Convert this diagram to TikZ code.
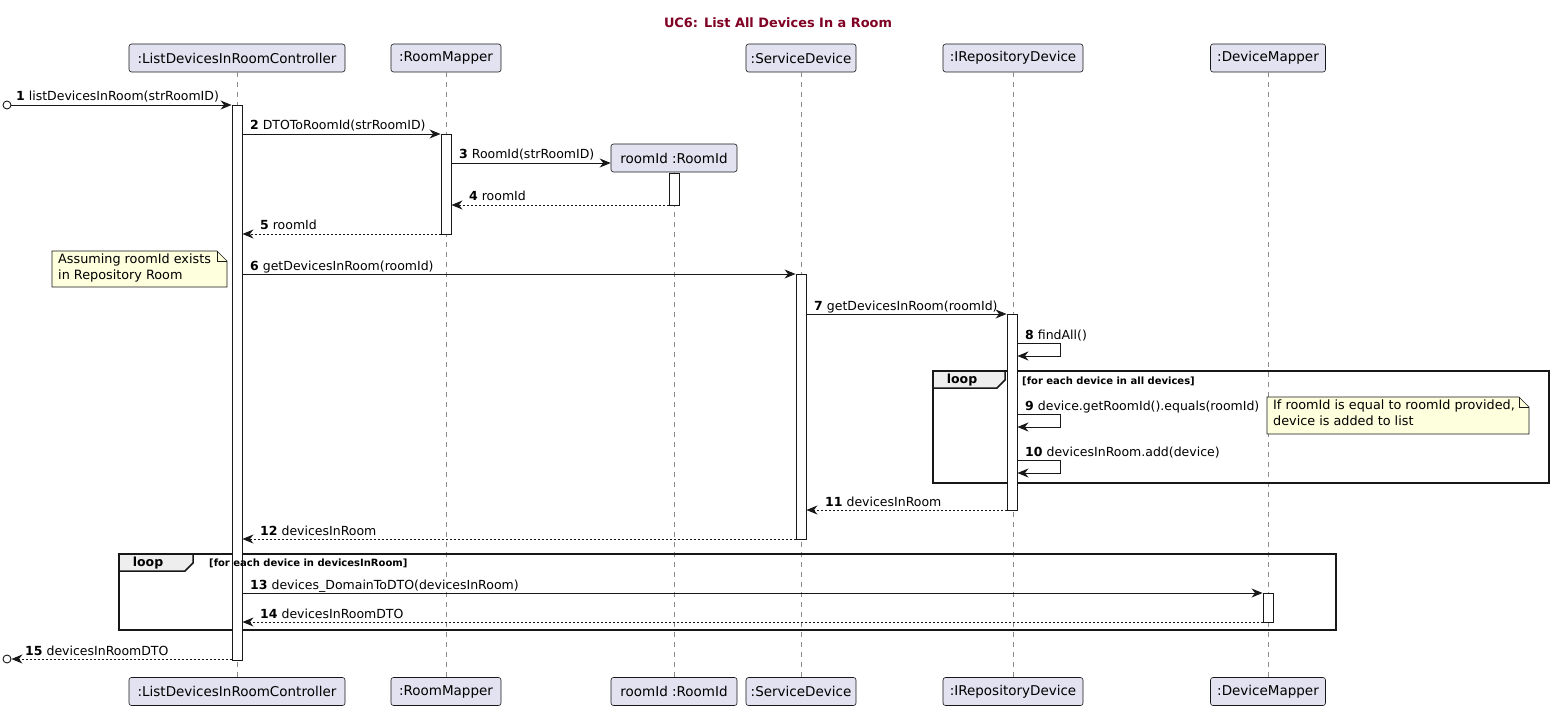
\documentclass[tikz,border=0pt]{standalone}
\usepackage{fontspec}
\setmainfont{DejaVu Sans}
\usetikzlibrary{arrows.meta}
\definecolor{partfill}{HTML}{E2E2F0}
\definecolor{notefill}{HTML}{FEFFDD}
\definecolor{titlered}{HTML}{800024}
\definecolor{ink}{HTML}{181818}
\definecolor{tabfill}{HTML}{EEEEEE}
\tikzset{
  part/.style={draw=ink, fill=partfill, rounded corners=2.5pt, minimum height=28pt, inner sep=0pt, line width=0.6pt, font=\fontsize{13.5}{15}\selectfont},
  life/.style={draw=gray!90, line width=0.6pt, dash pattern=on 5pt off 5pt},
  act/.style={draw=ink, fill=white, line width=0.9pt, minimum width=10pt, inner sep=0pt},
  msgline/.style={draw=ink, line width=0.9pt, -{Stealth[length=11pt,width=9pt,inset=3.5pt]}},
  retline/.style={msgline, dash pattern=on 2pt off 2pt},
  lbl/.style={font=\fontsize{12.5}{14}\selectfont, anchor=base west, inner sep=0pt},
  notebox/.style={draw=ink, fill=notefill, line width=0.6pt},
  notetxt/.style={font=\fontsize{12.8}{15.5}\selectfont, align=left, anchor=north west, inner sep=0pt},
  frameline/.style={draw=ink, line width=1.5pt},
  tabbox/.style={draw=ink, fill=tabfill, line width=1.5pt},
  tabtxt/.style={font=\bfseries\fontsize{12.5}{14}\selectfont, inner sep=0pt},
  guard/.style={font=\bfseries\fontsize{10}{11}\selectfont, anchor=west, inner sep=0pt},
  startc/.style={draw=ink, fill=white, line width=0.9pt, circle, minimum size=8pt, inner sep=0pt}
}
\begin{document}
\begin{tikzpicture}[x=1pt,y=-1pt]
\useasboundingbox (0,0) rectangle (1554,711);
% title
\node[font=\bfseries\fontsize{12.9}{15}\selectfont, text=titlered] (title) at (778,23) {UC6: List All Devices In a Room};
% participants
\node[part, minimum width=216pt] (cT) at (237,58) {:ListDevicesInRoomController};
\node[part, minimum width=216pt] (cB) at (237,691.5) {:ListDevicesInRoomController};
\node[part, minimum width=110pt] (rmT) at (446,58) {:RoomMapper};
\node[part, minimum width=110pt] (rmB) at (446,691.5) {:RoomMapper};
\node[part, minimum width=126pt] (riT) at (674,158) {roomId :RoomId};
\node[part, minimum width=126pt] (riB) at (674,691.5) {roomId :RoomId};
\node[part, minimum width=110pt] (sdT) at (801,58) {:ServiceDevice};
\node[part, minimum width=110pt] (sdB) at (801,691.5) {:ServiceDevice};
\node[part, minimum width=140pt] (irT) at (1013,58) {:IRepositoryDevice};
\node[part, minimum width=140pt] (irB) at (1013,691.5) {:IRepositoryDevice};
\node[part, minimum width=115pt] (dmT) at (1268,58) {:DeviceMapper};
\node[part, minimum width=115pt] (dmB) at (1268,691.5) {:DeviceMapper};
% lifelines
\draw[life] (cT.south) -- (cB.north);
\draw[life] (rmT.south) -- (rmB.north);
\draw[life] (riT.south) -- (riB.north);
\draw[life] (sdT.south) -- (sdB.north);
\draw[life] (irT.south) -- (irB.north);
\draw[life] (dmT.south) -- (dmB.north);
% loop frames
\draw[frameline] (933,371) rectangle (1549,483);
\draw[tabbox] (933,371) -- (1005,371) -- (1005,380) -- (997,388) -- (933,388) -- cycle;
\node[tabtxt] (loop1) at (962,380) {loop};
\node[guard] (g1) at (1022,381) {[for each device in all devices]};
\draw[frameline] (119,554) rectangle (1336,630);
\draw[tabbox] (119,554) -- (193,554) -- (193,563) -- (185,571) -- (119,571) -- cycle;
\node[tabtxt] (loop2) at (148,563) {loop};
% activations
\node[act, minimum height=555pt] (aC) at (237,382.5) {};
\node[act, minimum height=100pt] (aRM) at (446,184) {};
\node[act, minimum height=32pt] (aRI) at (674,189) {};
\node[act, minimum height=265pt] (aSD) at (801,406.5) {};
\node[act, minimum height=196pt] (aIR) at (1012,412) {};
\node[act, minimum height=29pt] (aDM) at (1268,607.5) {};
\node[guard] (g2) at (209,563) {[for each device in devicesInRoom]};
% start circles
\node[startc] (s1) at (7,105) {};
\node[startc] (s15) at (7,659) {};
% messages
\draw[msgline] (s1.east) -- (aC.west |- 0,105);
\node[lbl] (l1) at (16,101) {\textbf{1} listDevicesInRoom(strRoomID)};
\draw[msgline] (aC.east |- 0,134) -- (aRM.west |- 0,134);
\node[lbl] (l2) at (250,130) {\textbf{2} DTOToRoomId(strRoomID)};
\draw[msgline] (aRM.east |- 0,163) -- (riT.west |- 0,163);
\node[lbl] (l3) at (459,159) {\textbf{3} RoomId(strRoomID)};
\draw[retline] (aRI.west |- 0,205) -- (aRM.east |- 0,205);
\node[lbl] (l4) at (469,201) {\textbf{4} roomId};
\draw[retline] (aRM.west |- 0,234) -- (aC.east |- 0,234);
\node[lbl] (l5) at (260,230) {\textbf{5} roomId};
\draw[msgline] (aC.east |- 0,274) -- (aSD.west |- 0,274);
\node[lbl] (l6) at (250,270) {\textbf{6} getDevicesInRoom(roomId)};
\draw[msgline] (aSD.east |- 0,314) -- (aIR.west |- 0,314);
\node[lbl] (l7) at (814,310) {\textbf{7} getDevicesInRoom(roomId)};
\coordinate (r8) at (1060,343);
\draw[msgline] (aIR.east |- r8) -- (r8) -- (1060,356) -- (aIR.east |- 0,356);
\node[lbl] (l8) at (1025,339) {\textbf{8} findAll()};
\coordinate (r9) at (1060,414);
\draw[msgline] (aIR.east |- r9) -- (r9) -- (1060,427) -- (aIR.east |- 0,427);
\node[lbl] (l9) at (1025,410) {\textbf{9} device.getRoomId().equals(roomId)};
\coordinate (r10) at (1060,460);
\draw[msgline] (aIR.east |- r10) -- (r10) -- (1060,473) -- (aIR.east |- 0,473);
\node[lbl] (l10) at (1025,456) {\textbf{10} devicesInRoom.add(device)};
\draw[retline] (aIR.west |- 0,510) -- (aSD.east |- 0,510);
\node[lbl] (l11) at (825,506) {\textbf{11} devicesInRoom};
\draw[retline] (aSD.west |- 0,539) -- (aC.east |- 0,539);
\node[lbl] (l12) at (260,535) {\textbf{12} devicesInRoom};
\draw[msgline] (aC.east |- 0,593) -- (aDM.west |- 0,593);
\node[lbl] (l13) at (250,589) {\textbf{13} devices\_DomainToDTO(devicesInRoom)};
\draw[retline] (aDM.west |- 0,622) -- (aC.east |- 0,622);
\node[lbl] (l14) at (260,618) {\textbf{14} devicesInRoomDTO};
\draw[retline] (aC.west |- 0,659) -- (s15.east);
\node[lbl] (l15) at (25,655) {\textbf{15} devicesInRoomDTO};
% notes
\draw[notebox] (52,251) -- (217,251) -- (227,261) -- (227,287) -- (52,287) -- cycle;
\draw[ink, line width=0.6pt] (217,251) -- (217,261) -- (227,261);
\node[notetxt] (n1) at (58,254) {Assuming roomId exists\\in Repository Room};
\draw[notebox] (1267,397) -- (1519,397) -- (1529,407) -- (1529,434) -- (1267,434) -- cycle;
\draw[ink, line width=0.6pt] (1519,397) -- (1519,407) -- (1529,407);
\node[notetxt] (n2) at (1273,400) {If roomId is equal to roomId provided,\\device is added to list};
\end{tikzpicture}
\end{document}
